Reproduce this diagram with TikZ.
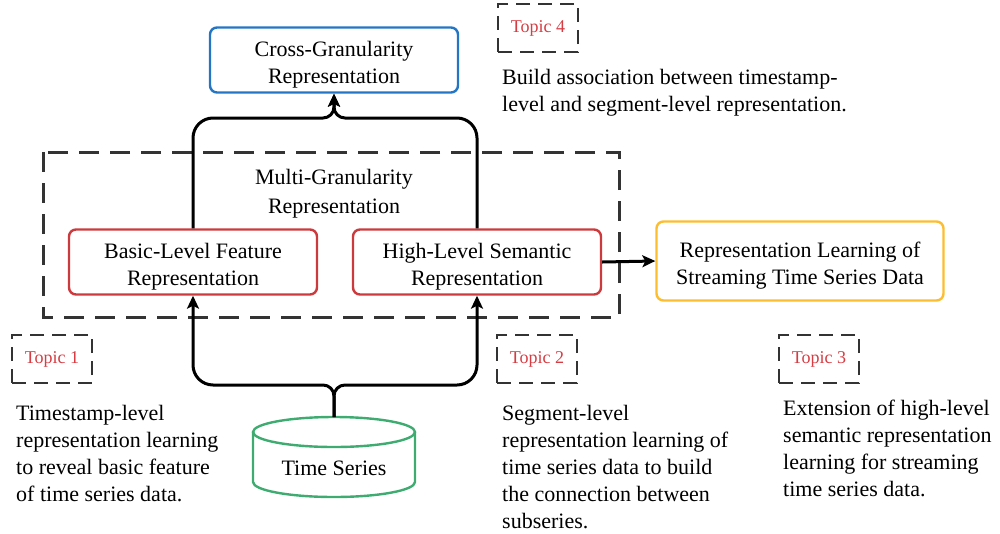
\documentclass[tikz,border=0pt]{standalone}
\usepackage{fontspec}
\setmainfont{Liberation Serif}
\usetikzlibrary{arrows.meta}
\definecolor{cblue}{RGB}{36,118,196}
\definecolor{cred}{RGB}{204,58,62}
\definecolor{corange}{RGB}{252,190,48}
\definecolor{cgreen}{RGB}{62,172,112}
\definecolor{cdash}{RGB}{51,51,51}
\definecolor{ctopic}{RGB}{214,60,66}
\newcommand{\upstrut}{\rule{0pt}{24pt}}
\begin{document}
\begin{tikzpicture}[x=1pt,y=-1pt,
  box/.style={draw,rounded corners=7pt,line width=2.4pt,align=center,inner sep=0pt,
    font=\fontsize{22}{27}\selectfont},
  bigdash/.style={draw=cdash,line width=3pt,dash pattern=on 20pt off 11pt},
  topicbox/.style={draw=cdash,line width=2.6pt,dash pattern=on 14pt off 8pt,
    minimum width=80pt,minimum height=48pt,inner sep=0pt,text=ctopic,
    font=\fontsize{18}{20}\selectfont},
  desc/.style={anchor=north west,align=left,inner sep=0pt,
    font=\fontsize{22}{27}\selectfont},
  conn/.style={line width=3pt,-{Stealth[length=13pt,width=12pt,inset=3pt]}}]
\useasboundingbox (0,0) rectangle (1000,533);

% big dashed box
\draw[bigdash] (43,152) rectangle (619,317);
\node[inner sep=0pt,align=center,font=\fontsize{22}{29}\selectfont] (multi) at (334,194)
  {Multi-Granularity\\Representation};

% main boxes
\node[box,draw=cblue,minimum width=248pt,minimum height=65pt] (cross) at (334,60)
  {\upstrut Cross-Granularity\\Representation};
\node[box,draw=cred,minimum width=248pt,minimum height=65pt] (basic) at (193,262)
  {\upstrut Basic-Level Feature\\Representation};
\node[box,draw=cred,minimum width=248pt,minimum height=65pt] (high) at (477,262)
  {\upstrut High-Level Semantic\\Representation};
\node[box,draw=corange,minimum width=287pt,minimum height=79pt] (stream) at (800,261)
  {\upstrut Representation Learning of\\Streaming Time Series Data};

% cylinder
\draw[cgreen,line width=2.4pt,fill=white] (253,432) -- (253,482)
  arc[start angle=180,end angle=360,x radius=81pt,y radius=15pt] -- (415,432);
\draw[cgreen,line width=2.4pt] (334,432) ellipse[x radius=81pt,y radius=15pt];
\node[inner sep=0pt,font=\fontsize{22}{27}\selectfont] (ts) at (334,468) {Time Series};
\coordinate (tstop) at (334,417);

% connectors
\draw[conn] (basic.north) [rounded corners=20pt] -- (193,118) [rounded corners=11pt]
  -- (334,118) -- (cross.south);
\draw[conn] (high.north) [rounded corners=20pt] -- (477,118) [rounded corners=11pt]
  -- (334,118) -- (cross.south);
\draw[conn] (tstop) [rounded corners=11pt] -- (334,385) [rounded corners=20pt]
  -- (193,385) -- (basic.south);
\draw[conn] (tstop) [rounded corners=11pt] -- (334,385) [rounded corners=20pt]
  -- (477,385) -- (high.south);
\draw[conn] (high.east) -- (stream.west);

% topics
\node[topicbox] (t4) at (538,28) {Topic 4};
\node[topicbox] (t1) at (52,359) {Topic 1};
\node[topicbox] (t2) at (537,359) {Topic 2};
\node[topicbox] (t3) at (819,359) {Topic 3};

\node[desc] (d4) at (502,69) {Build association between timestamp-\\level and segment-level representation.};
\node[desc] (d1) at (16,405) {Timestamp-level\\representation learning\\to reveal basic feature\\of time series data.};
\node[desc] (d2) at (502,405) {Segment-level\\representation learning of\\time series data to build\\the connection between\\subseries.};
\node[desc] (d3) at (783,400) {Extension of high-level\\semantic representation\\learning for streaming\\time series data.};
\end{tikzpicture}
\end{document}
